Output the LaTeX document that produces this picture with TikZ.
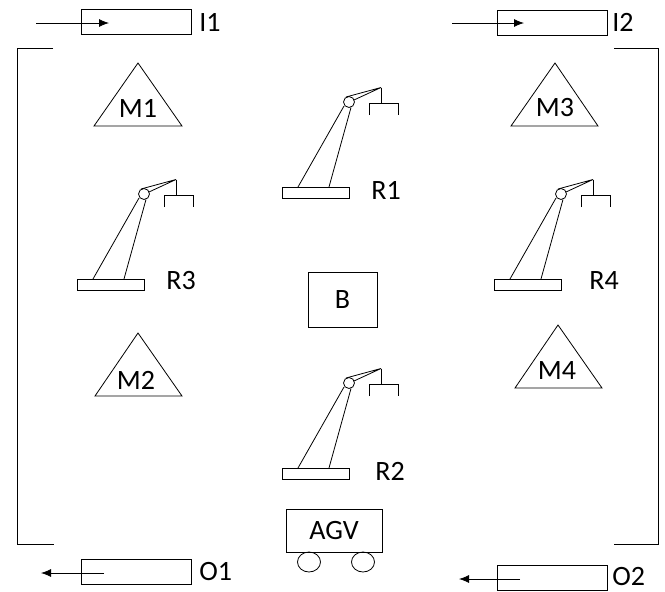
\documentclass[tikz,border=0pt]{standalone}
\usepackage{fontspec}
\setmainfont{Carlito}
\usetikzlibrary{arrows.meta}
\begin{document}
\begin{tikzpicture}[x=1pt,y=-1pt,line width=0.8pt,
  lbl/.style={anchor=west,inner sep=0pt,font=\fontsize{28}{32}\selectfont},
  ctr/.style={inner sep=0pt,font=\fontsize{28}{32}\selectfont},
  buffer/.style={draw,rectangle,minimum width=110pt,minimum height=25pt,inner sep=0pt},
  flow/.style={-{Latex[length=10pt,width=8pt]}},
  robot/.pic={
    \draw (-67,85) rectangle (0,96);
    \draw (-51,85) -- (-5,4);
    \draw (-20,85) -- (2,5.5);
    \draw (0,0) circle (5.5);
    \draw (-3,-5) -- (32,-14.5) -- (5,-2);
    \draw (32,-14.5) -- (32,1);
    \draw (20,13) -- (20,1) -- (49,1) -- (49,13);
  }]
\useasboundingbox (0,0) rectangle (665,592);

% input and output buffers
\node[buffer] (i1) at (136,22) {};
\node[buffer] (i2) at (552.5,22.5) {};
\node[buffer] (o1) at (136,571.5) {};
\node[buffer] (o2) at (552.5,578) {};
\node[lbl] (li1) at (199,22) {I1};
\node[lbl] (li2) at (612,22) {I2};
\node[lbl] (lo1) at (199,572) {O1};
\node[lbl] (lo2) at (612,577) {O2};

\coordinate (i1s) at (36,23);  \coordinate (i1e) at (109,23);
\coordinate (i2s) at (452,23); \coordinate (i2e) at (524,23);
\coordinate (o1s) at (104,573); \coordinate (o1e) at (41,573);
\coordinate (o2s) at (520,579); \coordinate (o2e) at (459,579);
\draw[flow] (i1s) -- (i1e);
\draw[flow] (i2s) -- (i2e);
\draw[flow] (o1s) -- (o1e);
\draw[flow] (o2s) -- (o2e);

% cell boundaries
\draw (53,48) -- (17,48) -- (17,544) -- (54,544);
\draw (614,48) -- (658,48) -- (658,544) -- (614,544);

% machines
\draw (138,63) -- (182,126) -- (94,126) -- cycle;
\draw (555,63) -- (598,126) -- (511,126) -- cycle;
\draw (138,333) -- (182,396) -- (95,396) -- cycle;
\draw (558,325) -- (602,388) -- (515,388) -- cycle;
\node[ctr] (m1) at (138,108) {M1};
\node[ctr] (m3) at (555,108) {M3};
\node[ctr] (m2) at (136,380) {M2};
\node[ctr] (m4) at (557,371) {M4};

% robots
\pic at (349,102) {robot};
\pic at (144,194) {robot};
\pic at (561,194) {robot};
\pic at (349,383) {robot};
\node[lbl] (r1) at (371,190) {R1};
\node[lbl] (r3) at (166,281) {R3};
\node[lbl] (r4) at (589,281) {R4};
\node[lbl] (r2) at (375,471) {R2};

% central buffer
\node[draw,rectangle,minimum width=69pt,minimum height=55pt,ctr] (b) at (342.5,299.5) {B};

% AGV
\node[draw,rectangle,minimum width=96pt,minimum height=43pt,ctr] (agv) at (334,530.5) {AGV};
\draw (309,562) ellipse (11.5 and 10);
\draw (363,562) ellipse (11.5 and 10);
\end{tikzpicture}
\end{document}
